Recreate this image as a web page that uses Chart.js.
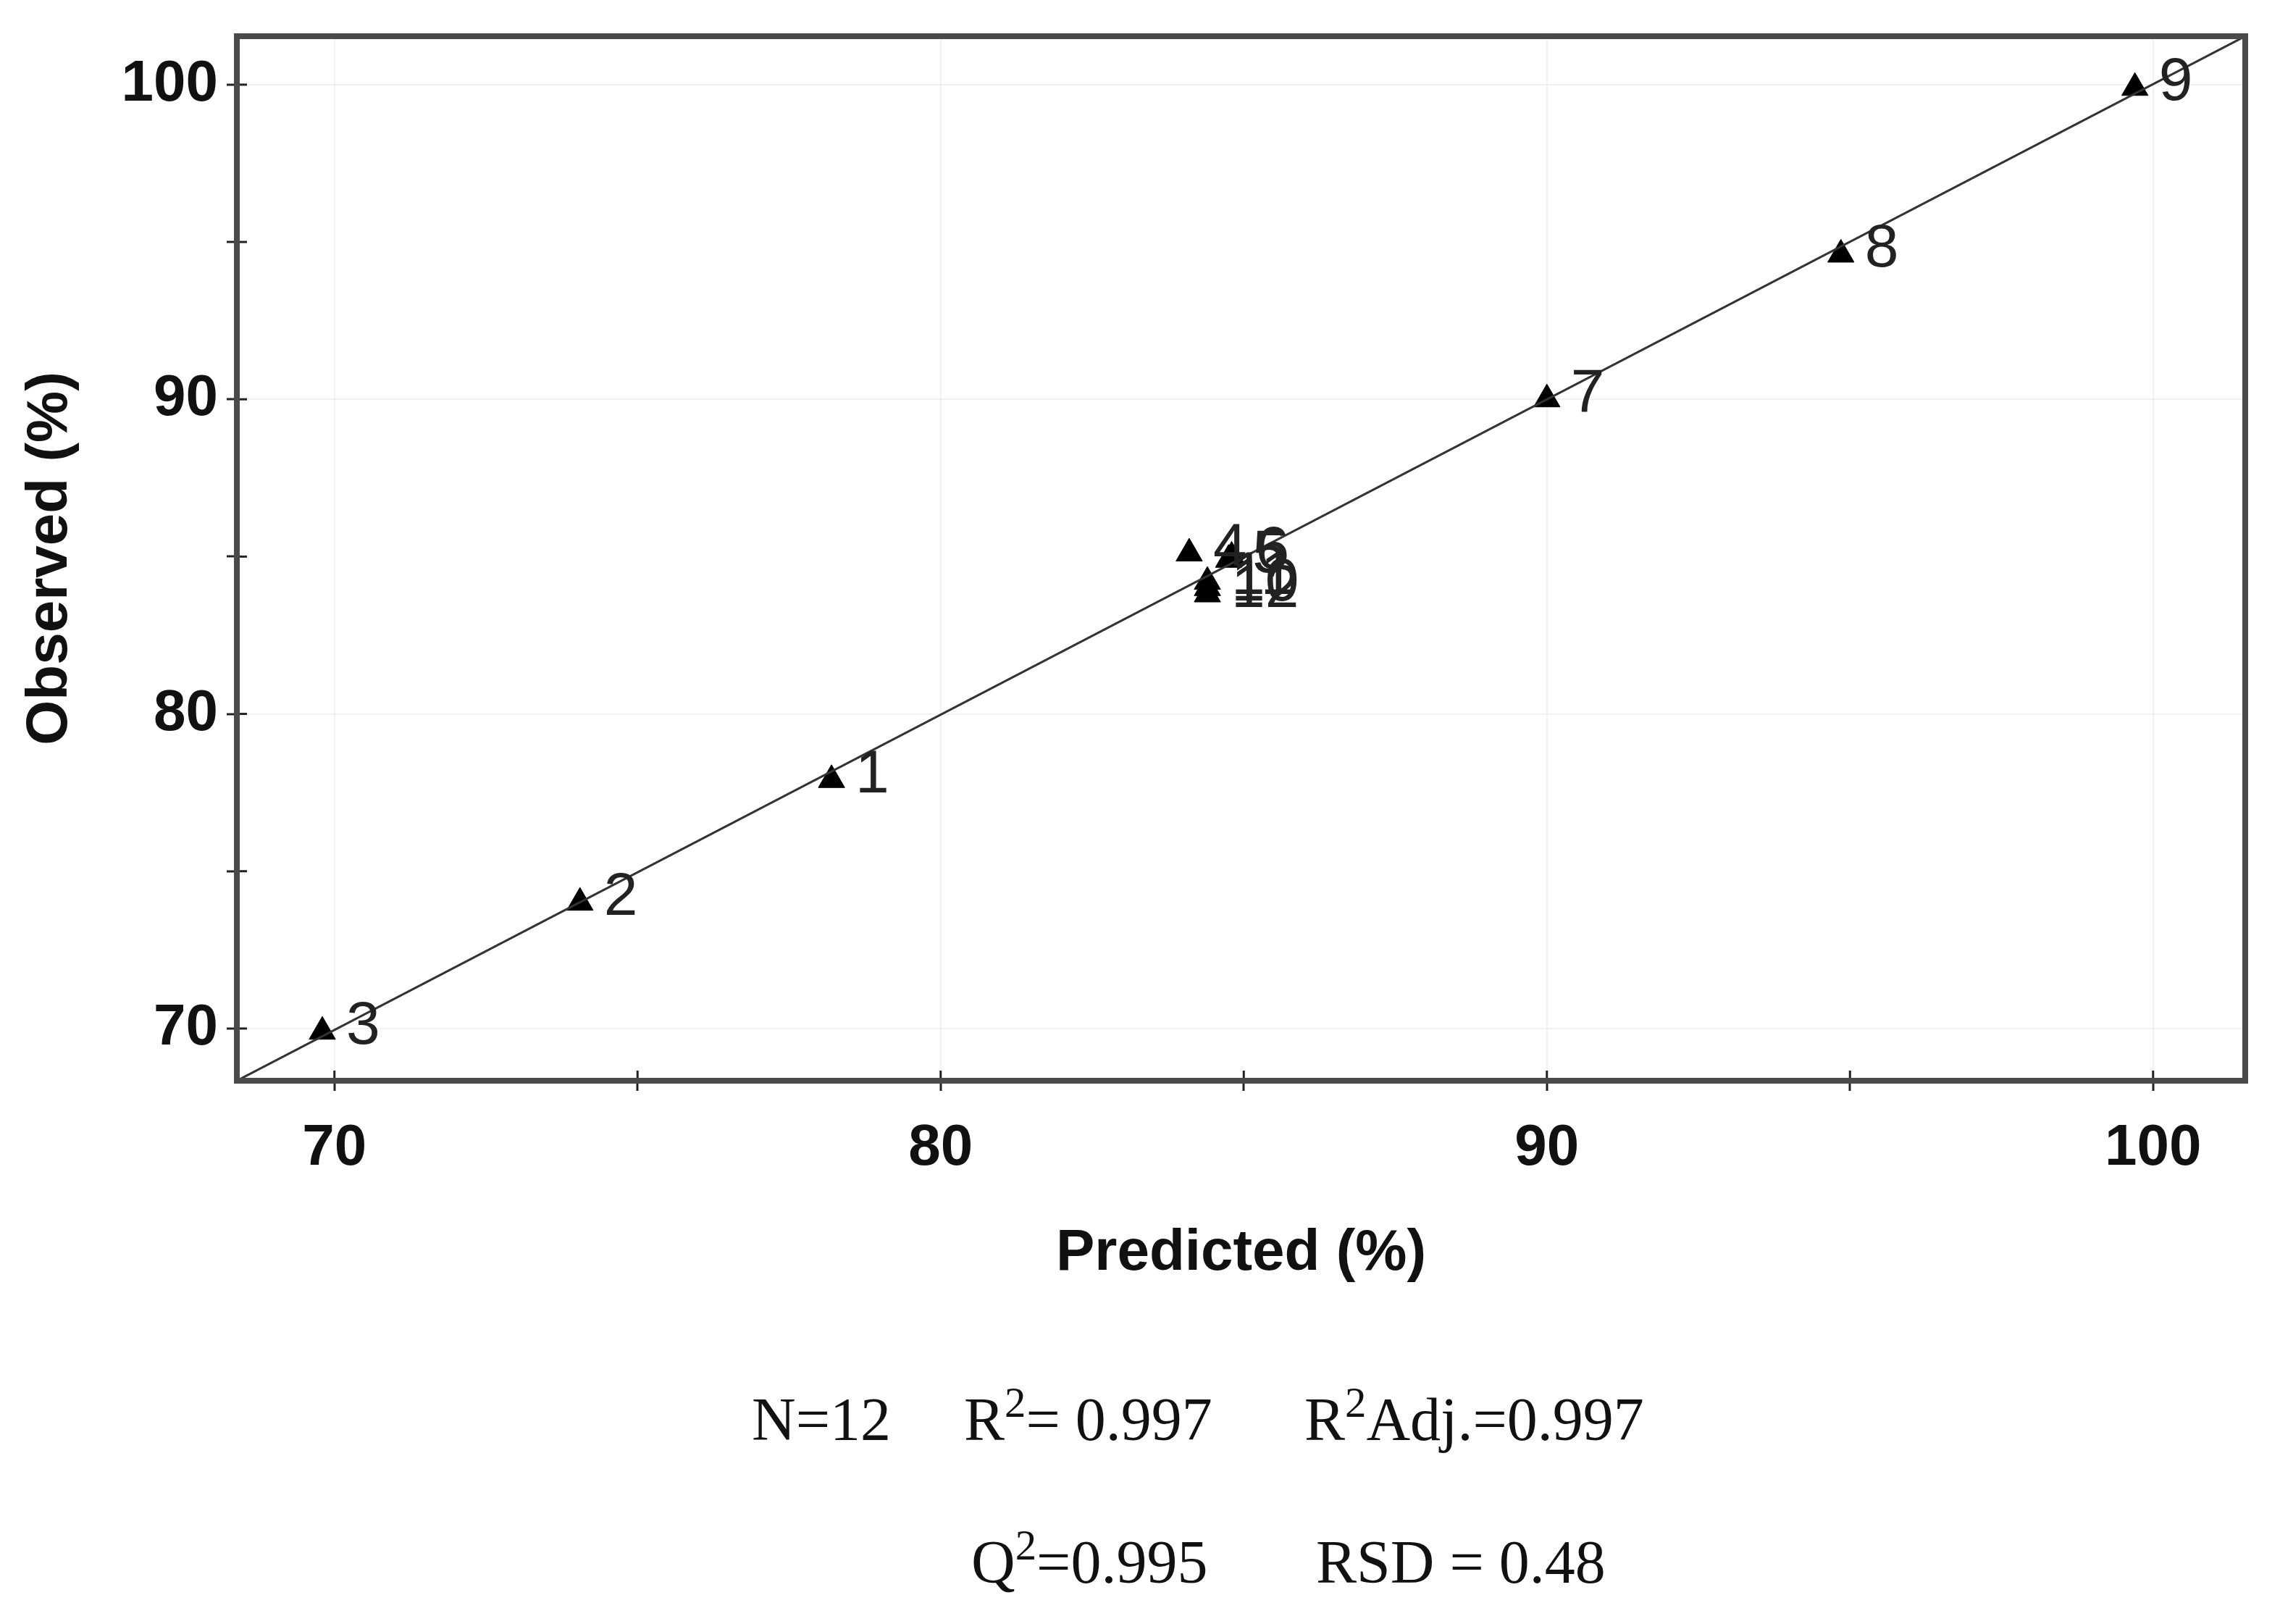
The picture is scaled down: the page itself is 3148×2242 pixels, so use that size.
<!DOCTYPE html>
<html>
<head>
<meta charset="utf-8">
<script src="https://cdn.jsdelivr.net/npm/chart.js@4.4.1/dist/chart.umd.min.js"></script>
<style>
  html, body { margin: 0; padding: 0; background: #fff; }
  #wrap { position: relative; width: 3148px; height: 2242px; }
  #box { position: absolute; left: 0; top: 0; width: 3148px; height: 1800px; }
  .stat { position: absolute; font-family: "Liberation Serif", "Times New Roman", serif;
          font-size: 84px; line-height: 84px; color: #111; white-space: nowrap; }
  .stat sup { font-size: 70%; line-height: 0; vertical-align: 0.55em; }
</style>
</head>
<body>
<div id="wrap">
  <div id="box"><canvas id="c"></canvas></div>
  <div class="stat" style="left:1038px;top:1918px">N=12</div>
  <div class="stat" style="left:1331px;top:1918px">R<sup>2</sup>= 0.997</div>
  <div class="stat" style="left:1801px;top:1918px">R<sup>2</sup>Adj.=0.997</div>
  <div class="stat" style="left:1341px;top:2115px">Q<sup>2</sup>=0.995</div>
  <div class="stat" style="left:1817px;top:2115px">RSD = 0.48</div>
</div>
<script>
// ── data ──
const RUN_LABELS = ["1", "2", "3", "4", "5", "6", "7", "8", "9", "10", "11", "12"];
const PREDICTED  = [78.2, 74.05, 69.8, 84.1, 84.75, 84.8, 90.0, 94.85, 99.7, 84.4, 84.4, 84.4];
const OBSERVED   = [77.9, 74.0, 69.9, 85.1, 84.9, 85.0, 90.0, 94.6, 99.9, 84.0, 84.2, 83.8];

// axis ranges and ticks (labels only every 10)
const X_RANGE = [68.39, 101.52];
const Y_RANGE = [68.34, 101.54];
const TICKS   = [70, 75, 80, 85, 90, 95, 100];
const TICK_LABELS = { 70: "70", 80: "80", 90: "90", 100: "100" };

// 1:1 line, corner to corner
const LINE_X = [68.39, 101.52];
const LINE_Y = [68.34, 101.54];

const INK = "#111";
const boldFont = { family: "'Liberation Sans', Arial, sans-serif", size: 80, weight: "bold" };

// ── frame + inner halves of tick marks ──
const framePlugin = {
  id: "frame",
  afterDraw(chart) {
    const { ctx, chartArea: a, scales } = chart;
    ctx.save();
    ctx.strokeStyle = "#222";
    ctx.lineWidth = 3;
    scales.x.ticks.forEach(t => {
      const px = scales.x.getPixelForValue(t.value);
      ctx.beginPath(); ctx.moveTo(px, a.bottom); ctx.lineTo(px, a.bottom - 14); ctx.stroke();
    });
    scales.y.ticks.forEach(t => {
      const py = scales.y.getPixelForValue(t.value);
      ctx.beginPath(); ctx.moveTo(a.left, py); ctx.lineTo(a.left + 14, py); ctx.stroke();
    });
    ctx.strokeStyle = "#4a4a4a";
    ctx.lineWidth = 8;
    ctx.strokeRect(a.left, a.top, a.width, a.height);
    ctx.restore();
  }
};

// ── run number next to each point ──
const runLabelPlugin = {
  id: "runLabels",
  afterDatasetsDraw(chart) {
    const { ctx } = chart;
    const meta = chart.getDatasetMeta(1);
    ctx.save();
    ctx.font = "84px 'Liberation Sans', Arial, sans-serif";
    ctx.fillStyle = "#222";
    ctx.textAlign = "left";
    ctx.textBaseline = "alphabetic";
    meta.data.forEach((el, i) => ctx.fillText(RUN_LABELS[i], el.x + 33, el.y + 17));
    ctx.restore();
  }
};

const gridColor = c => (c.tick && c.tick.value % 10 === 0) ? "rgba(0,0,0,0.05)" : "rgba(0,0,0,0)";

new Chart(document.getElementById("c"), {
  type: "scatter",
  data: {
    datasets: [
      {
        type: "line",
        data: LINE_X.map((x, i) => ({ x, y: LINE_Y[i] })),
        borderColor: "#333", borderWidth: 3, pointRadius: 0, fill: false, tension: 0
      },
      {
        data: PREDICTED.map((x, i) => ({ x, y: OBSERVED[i] })),
        pointStyle: "triangle", pointRadius: 21,
        backgroundColor: "#000", borderColor: "#000", borderWidth: 1
      }
    ]
  },
  options: {
    responsive: true, maintainAspectRatio: false, animation: false,
    layout: { padding: { top: 50, right: 48, left: 0, bottom: 0 } },
    plugins: { legend: { display: false }, tooltip: { enabled: false } },
    scales: {
      x: {
        type: "linear", min: X_RANGE[0], max: X_RANGE[1],
        afterBuildTicks: s => { s.ticks = TICKS.map(v => ({ value: v })); },
        afterFit: s => { s.height = 308; s.paddingLeft = 0; s.paddingRight = 0; },
        ticks: { callback: v => TICK_LABELS[v] || "", font: boldFont, color: INK, padding: 32, maxRotation: 0 },
        grid: { color: gridColor, tickColor: "#222", tickLength: 14, tickWidth: 3, lineWidth: 2 },
        border: { display: false },
        title: { display: true, text: "Predicted (%)", font: boldFont, color: INK, padding: { top: 0, bottom: 21 } }
      },
      y: {
        type: "linear", min: Y_RANGE[0], max: Y_RANGE[1],
        afterBuildTicks: s => { s.ticks = TICKS.map(v => ({ value: v })); },
        afterFit: s => { s.width = 327; s.paddingTop = 0; s.paddingBottom = 0; },
        ticks: { callback: v => TICK_LABELS[v] || "", font: boldFont, color: INK, padding: 12 },
        grid: { color: gridColor, tickColor: "#222", tickLength: 14, tickWidth: 3, lineWidth: 2 },
        border: { display: false },
        title: { display: true, text: "Observed (%)", font: boldFont, color: INK, padding: { top: 22, bottom: 0 } }
      }
    }
  },
  plugins: [framePlugin, runLabelPlugin]
});
</script>
</body>
</html>
